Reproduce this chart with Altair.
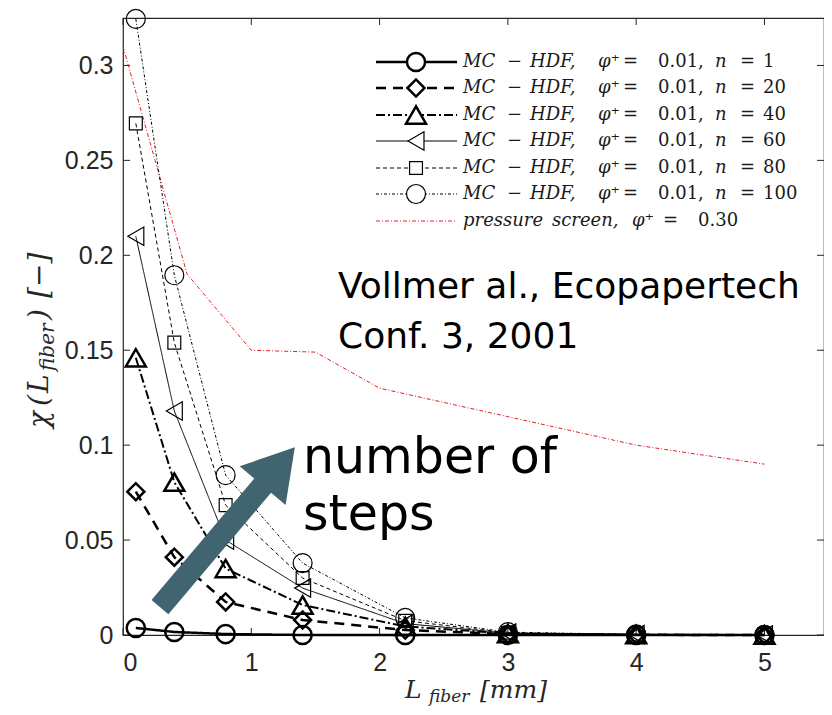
import altair as alt
import pandas as pd

# ---------------- data ----------------
x_mc = [0.1, 0.4, 0.8, 1.4, 2.2, 3.0, 4.0, 5.0]
chi_n1 = [0.0037, 0.0016, 0.0005, 0.0, 0.0, 0.0, 0.0, 0.0]
chi_n20 = [0.0755, 0.041, 0.0174, 0.0079, 0.0026, 0.0005, 0.0001, 0.0]
chi_n40 = [0.146, 0.0805, 0.035, 0.0158, 0.0045, 0.0008, 0.0002, 0.0]
chi_n60 = [0.21, 0.118, 0.05, 0.0247, 0.006, 0.001, 0.0002, 0.0]
chi_n80 = [0.2695, 0.154, 0.0684, 0.030, 0.0075, 0.0012, 0.0003, 0.0]
chi_n100 = [0.3245, 0.1895, 0.0842, 0.0379, 0.009, 0.0015, 0.0003, 0.0]
x_ps = [0.0, 0.5, 1.0, 1.5, 2.0, 3.0, 4.0, 5.0]
chi_ps = [0.31, 0.19, 0.15, 0.149, 0.13, 0.115, 0.10, 0.09]
n_steps = [1, 20, 40, 60, 80, 100]
phi_mc = "0.01"
phi_ps = "0.30"
y_ticks = [0, 0.05, 0.1, 0.15, 0.2, 0.25, 0.3]
x_ticks = [0, 1, 2, 3, 4, 5]
ref_lines = ["Vollmer al., Ecopapertech", "Conf. 3, 2001"]
arrow_lines = ["number of", "steps"]
arrow_x = [0.288, 1.115]
arrow_y = [0.0147, 0.0808]
arrow_head_x = [1.189]
arrow_head_y = [0.0868]

# ---------------- layout / styles ----------------
W, H = 701, 617
XMAX, YMAX = 5.464, 0.325
INK = "#000000"
AX = "#262626"
RED = "#e0202a"
ARROW = "#416570"
SERIF = "DejaVu Serif"

all_chi = [chi_n1, chi_n20, chi_n40, chi_n60, chi_n80, chi_n100]
keys = [f"n{n}" for n in n_steps]

rows = []
for k, ys_ in zip(keys, all_chi):
    for xv, yv in zip(x_mc, ys_):
        rows.append({"series": k, "x": xv, "y": yv})
for xv, yv in zip(x_ps, chi_ps):
    rows.append({"series": "ps", "x": xv, "y": yv})
df = pd.DataFrame(rows)

styles = {
    "n1":   dict(dash=[1, 0],        lw=2.5, shape="circle",        size=330, mw=2.5),
    "n20":  dict(dash=[10, 7],       lw=2.5, shape="diamond",       size=290, mw=2.5),
    "n40":  dict(dash=[9, 3, 2, 3],  lw=2.0, shape="triangle-up",   size=400, mw=2.5),
    "n60":  dict(dash=[1, 0],        lw=1.0, shape="triangle-left", size=340, mw=1.2),
    "n80":  dict(dash=[4, 3],        lw=1.0, shape="square",        size=165, mw=1.2),
    "n100": dict(dash=[3, 2, 1, 2],  lw=1.0, shape="circle",        size=360, mw=1.2),
}
ps_style = dict(dash=[4, 2, 1, 2], lw=1.0)

xs = alt.Scale(domain=[0, XMAX], nice=False, zero=False)
ysc = alt.Scale(domain=[0, YMAX], nice=False, zero=False)
xaxis = alt.Axis(values=x_ticks, format="d", title=None, grid=False, domain=False,
                 ticks=False, tickSize=0, labelFont="Liberation Sans", labelFontSize=25,
                 labelColor=AX, labelPadding=15)
yaxis = alt.Axis(values=y_ticks, format="~g", title=None, grid=False, domain=False,
                 ticks=False, tickSize=0, labelFont="Liberation Sans", labelFontSize=25,
                 labelColor=AX, labelPadding=10)
X = alt.X("x:Q", scale=xs, axis=xaxis)
Y = alt.Y("y:Q", scale=ysc, axis=yaxis)

layers = []

# inward ticks (MATLAB box style)
tdy = pd.DataFrame({"y": y_ticks})
tdx = pd.DataFrame({"x": x_ticks})
layers.append(alt.Chart(tdy).mark_rule(color=AX, strokeWidth=1).encode(y=Y, x=alt.value(0), x2=alt.value(7)))
layers.append(alt.Chart(tdy).mark_rule(color=AX, strokeWidth=1).encode(y=Y, x=alt.value(W - 7), x2=alt.value(W)))
layers.append(alt.Chart(tdx).mark_rule(color=AX, strokeWidth=1).encode(x=X, y=alt.value(H - 7), y2=alt.value(H)))
layers.append(alt.Chart(tdx).mark_rule(color=AX, strokeWidth=1).encode(x=X, y=alt.value(0), y2=alt.value(7)))

# pressure screen line
layers.append(
    alt.Chart(df).transform_filter(alt.datum.series == "ps")
    .mark_line(color=RED, strokeWidth=ps_style["lw"], strokeDash=ps_style["dash"])
    .encode(x=X, y=Y)
)

# MC-HDF series
for k in reversed(keys):
    st = styles[k]
    sub = alt.Chart(df).transform_filter(alt.datum.series == k)
    layers.append(sub.mark_line(color=INK, strokeWidth=st["lw"], strokeDash=st["dash"]).encode(x=X, y=Y))
    layers.append(sub.mark_point(shape=st["shape"], size=st["size"], filled=False, color=INK,
                                 strokeWidth=st["mw"], opacity=1).encode(x=X, y=Y))

# ---------------- legend (drawn inside plot, top right) ----------------
leg_rows_y = [44, 70, 97, 123, 150, 176, 203]
LX1, LX2, LMX = 253, 334, 293
for i, k in enumerate(keys):
    st = styles[k]
    one = alt.Chart(pd.DataFrame({"s": [k]}))
    layers.append(one.mark_rule(color=INK, strokeWidth=st["lw"], strokeDash=st["dash"])
                  .encode(x=alt.value(LX1), x2=alt.value(LX2), y=alt.value(leg_rows_y[i])))
    layers.append(one.mark_point(shape=st["shape"], size=st["size"], filled=False, color=INK,
                                 strokeWidth=st["mw"], opacity=1, fill="white")
                  .encode(x=alt.value(LMX), y=alt.value(leg_rows_y[i])))
one = alt.Chart(pd.DataFrame({"s": ["ps"]}))
layers.append(one.mark_rule(color=RED, strokeWidth=ps_style["lw"], strokeDash=ps_style["dash"])
              .encode(x=alt.value(LX1), x2=alt.value(LX2), y=alt.value(leg_rows_y[6])))

pieces = []
for i, n in enumerate(n_steps):
    yy = leg_rows_y[i]
    for txt, px, it in [("MC", 340, True), ("\u2212", 384, False), ("HDF,", 407, True),
                        ("\u03c6\u207a", 475, True), ("=", 500, False), (phi_mc + ",", 535, False),
                        ("n", 592, True), ("=", 617, False), (str(n), 640, False)]:
        pieces.append({"t": txt, "px": px, "py": yy, "it": it})
for txt, px, it in [("pressure", 340, True), ("screen,", 429, True), ("\u03c6\u207a", 509, True),
                    ("=", 540, False), (phi_ps, 575, False)]:
    pieces.append({"t": txt, "px": px, "py": leg_rows_y[6], "it": it})
pdf = pd.DataFrame(pieces)
for it in (True, False):
    layers.append(
        alt.Chart(pdf).transform_filter(alt.datum.it == it)
        .mark_text(font=SERIF, fontSize=18, fontStyle="italic" if it else "normal",
                   align="left", baseline="middle", color="#1a1a1a")
        .encode(x=alt.X("px:Q", scale=None), y=alt.Y("py:Q", scale=None), text="t:N")
    )

# ---------------- annotations ----------------
layers.append(
    alt.Chart(pd.DataFrame({"t": [ref_lines]})).mark_text(
        font="DejaVu Sans", fontSize=36, align="left", baseline="alphabetic",
        lineHeight=50, color=INK)
    .encode(x=alt.value(215), y=alt.value(280), text="t")
)
layers.append(
    alt.Chart(pd.DataFrame({"t": [arrow_lines]})).mark_text(
        font="DejaVu Sans", fontSize=49, align="left", baseline="alphabetic",
        lineHeight=57, color=INK)
    .encode(x=alt.value(180), y=alt.value(455), text="t")
)
adf = pd.DataFrame({"x": arrow_x, "y": arrow_y})
layers.append(alt.Chart(adf).mark_line(color=ARROW, strokeWidth=22, strokeCap="butt").encode(x=X, y=Y))
hdf = pd.DataFrame({"x": arrow_head_x, "y": arrow_head_y})
layers.append(alt.Chart(hdf).mark_point(shape="M0,-1L1,0.67L-1,0.67Z", size=3600, filled=True,
                                        color=ARROW, opacity=1, strokeWidth=0, angle=40)
              .encode(x=X, y=Y))

# ---------------- axis titles (with subscripts) ----------------
ttl = []
for txt, px, py, fs in [("L", 282, 680, 25), ("fiber", 306, 684, 17), ("[mm]", 357, 680, 25)]:
    ttl.append({"t": txt, "px": px, "py": py, "fs": fs})
xt = pd.DataFrame(ttl)
for fs in (25, 17):
    layers.append(
        alt.Chart(xt).transform_filter(alt.datum.fs == fs)
        .mark_text(font=SERIF, fontStyle="italic", fontSize=fs, align="left",
                   baseline="alphabetic", color=AX)
        .encode(x=alt.X("px:Q", scale=None), y=alt.Y("py:Q", scale=None), text="t:N")
    )
ytl = []
for txt, px, py, fs in [("\u03c7", -75, 410, 28), ("(", -75, 388, 28), ("L", -75, 375, 28),
                        ("fiber", -69, 353, 20), (")", -75, 302, 28), ("[\u2212]", -75, 280, 28)]:
    ytl.append({"t": txt, "px": px, "py": py, "fs": fs})
yt = pd.DataFrame(ytl)
for fs in (28, 20):
    layers.append(
        alt.Chart(yt).transform_filter(alt.datum.fs == fs)
        .mark_text(font=SERIF, fontStyle="italic", fontSize=fs, align="left",
                   baseline="alphabetic", angle=270, color=AX)
        .encode(x=alt.X("px:Q", scale=None), y=alt.Y("py:Q", scale=None), text="t:N")
    )

chart = (
    alt.layer(*layers)
    .properties(width=W, height=H,
                autosize=alt.AutoSizeParams(type="none"),
                padding={"left": 115, "top": 10, "right": 0, "bottom": 72},
                background="white")
    .configure_view(stroke=AX, strokeWidth=1.2)
)
chart.save("out.html", embed_options={"renderer": "svg", "actions": False})
